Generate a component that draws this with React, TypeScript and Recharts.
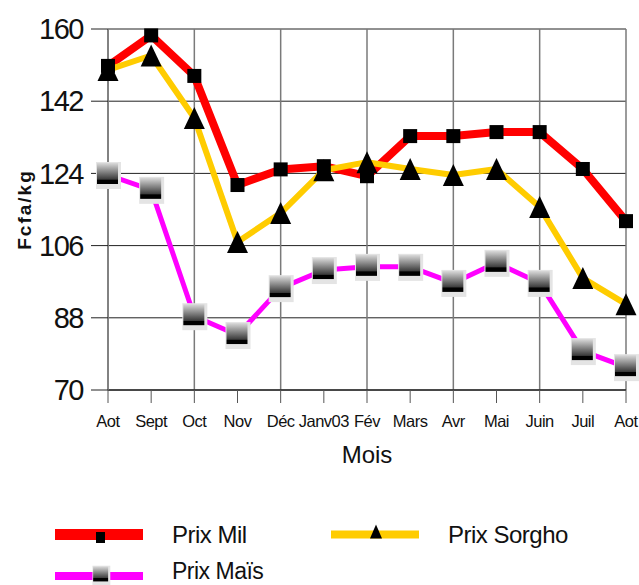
import React from "react";
import { LineChart, Line, CartesianGrid, XAxis, YAxis, ReferenceLine } from "recharts";

const mois = ["Aot", "Sept", "Oct", "Nov", "Déc", "Janv03", "Fév", "Mars", "Avr", "Mai", "Juin", "Juil", "Aot"];
const prixMil = [150.8, 158.4, 148.3, 121.1, 125, 125.8, 123.3, 133.3, 133.3, 134.3, 134.3, 125.1, 112.1];
const prixSorgho = [149.8, 153.4, 137.8, 106.9, 114.1, 124.8, 126.8, 125.1, 123.6, 125.1, 115.6, 97.9, 91.4];
const prixMais = [123.6, 119.9, 88.4, 83.7, 95.4, 99.9, 100.7, 100.7, 96.7, 101.7, 96.7, 79.7, 75.7];
const yTicks = [70, 88, 106, 124, 142, 160];
const gridMonths = [0, 2, 4, 6, 8, 10, 12];

const data = mois.map((m, i) => ({ i, mois: m, mil: prixMil[i], sorgho: prixSorgho[i], mais: prixMais[i] }));

const FONT = "'Liberation Sans', Arial, sans-serif";

// markers
function Square({ cx, cy, s = 14 }: any) {
  return <rect x={cx - s / 2} y={cy - s / 2} width={s} height={s} fill="#000" />;
}
function Triangle({ cx, cy, w = 21, h = 22 }: any) {
  return <polygon points={`${cx},${cy - h / 2} ${cx + w / 2},${cy + h / 2} ${cx - w / 2},${cy + h / 2}`} fill="#000" />;
}
function GradSquare({ cx, cy, s = 21 }: any) {
  const k = s / 21;
  return (
    <g>
      <rect x={cx - 12 * k} y={cy - 13 * k} width={25 * k} height={27 * k} fill="#e4e4e4" />
      <rect x={cx - 11 * k} y={cy - 12 * k} width={21 * k} height={21 * k} fill="url(#maisGrad)" />
    </g>
  );
}

const series = [
  { key: "mil", name: "Prix Mil", color: "#ff0000", width: 8, Marker: Square },
  { key: "sorgho", name: "Prix Sorgho", color: "#ffcc00", width: 6, Marker: Triangle },
  { key: "mais", name: "Prix Maïs", color: "#ff00ff", width: 5, Marker: GradSquare },
];

function GradDefs() {
  return (
    <defs>
      <linearGradient id="maisGrad" x1="0" y1="0" x2="0" y2="1">
        <stop offset="0" stopColor="#dadada" />
        <stop offset="0.78" stopColor="#3a3a3a" />
        <stop offset="0.8" stopColor="#000" />
        <stop offset="1" stopColor="#000" />
      </linearGradient>
    </defs>
  );
}

export default function App() {
  return (
    <div style={{ position: "absolute", left: 0, top: 0, width: 639, height: 585, background: "#fff", fontFamily: FONT }}>
      <LineChart width={639} height={585} data={data} margin={{ top: 29, right: 13, left: 0, bottom: 105 }}>
        <GradDefs />
        <CartesianGrid vertical={false} stroke="#222" strokeWidth={1} />
        {gridMonths.map((m) => (
          <ReferenceLine key={m} x={m} stroke="#7a7a7a" strokeWidth={1.5} />
        ))}
        <XAxis
          dataKey="i"
          type="number"
          domain={[0, 12]}
          ticks={mois.map((_, i) => i)}
          interval={0}
          tickFormatter={(v: number) => mois[v]}
          height={90}
          tickSize={13}
          tickMargin={12}
          axisLine={{ stroke: "#000" }}
          tickLine={{ stroke: "#555" }}
          tick={{ fontSize: 16.5, fill: "#111", fontFamily: FONT, letterSpacing: -0.5 }}
          label={({ viewBox }: any) => (
            <text x={viewBox.x + viewBox.width / 2} y={viewBox.y + 73} textAnchor="middle" fontSize={24} fontFamily={FONT} fill="#111">
              Mois
            </text>
          )}
        />
        <YAxis
          domain={[70, 160]}
          ticks={yTicks}
          interval={0}
          width={108}
          tickSize={17}
          tickMargin={8}
          axisLine={{ stroke: "#7a7a7a", strokeWidth: 1.5 }}
          tickLine={{ stroke: "#222" }}
          tick={{ fontSize: 29, fill: "#111", fontFamily: FONT, letterSpacing: -1.5 }}
          label={({ viewBox }: any) => (
            <text
              x={24}
              y={viewBox.y + viewBox.height / 2}
              transform={`rotate(-90 24 ${viewBox.y + viewBox.height / 2})`}
              textAnchor="middle"
              dominantBaseline="central"
              fontSize={19}
              fontWeight="bold"
              letterSpacing={2}
              fontFamily={FONT}
              fill="#111"
            >
              Fcfa/kg
            </text>
          )}
        />
        {series.map((s) => (
          <Line
            key={s.key}
            dataKey={s.key}
            name={s.name}
            type="linear"
            stroke={s.color}
            strokeWidth={s.width}
            strokeLinejoin="round"
            isAnimationActive={false}
            dot={(p: any) => (
              <g key={`${s.key}-${p.index}`}>
                <s.Marker cx={p.cx} cy={p.cy} />
              </g>
            )}
            activeDot={false}
          />
        ))}
      </LineChart>
      <svg width={639} height={75} style={{ position: "absolute", left: 0, top: 510 }}>
        <GradDefs />
        {series.map((s, idx) => {
          const col = idx === 1 ? 1 : 0;
          const row = idx === 2 ? 1 : 0;
          const x0 = col ? 331 : 55;
          const y = row ? 66 : 24.5;
          const lw = idx === 0 ? 11 : 8;
          return (
            <g key={s.key}>
              <line x1={x0} x2={x0 + 88} y1={y} y2={y} stroke={s.color} strokeWidth={lw} />
              {idx === 0 && <rect x={x0 + 41} y={y - 2.5} width={9} height={11} fill="#000" />}
              {idx === 1 && <Triangle cx={x0 + 45} cy={y - 3} w={12} h={14} />}
              {idx === 2 && <GradSquare cx={x0 + 46} cy={y - 1} s={15} />}
              <text x={x0 + 117} y={row ? y + 3 : y + 8.5} fontSize={row ? 23 : 24} fontFamily={FONT} fill="#111" letterSpacing={-0.5}>
                {s.name}
              </text>
            </g>
          );
        })}
      </svg>
    </div>
  );
}
